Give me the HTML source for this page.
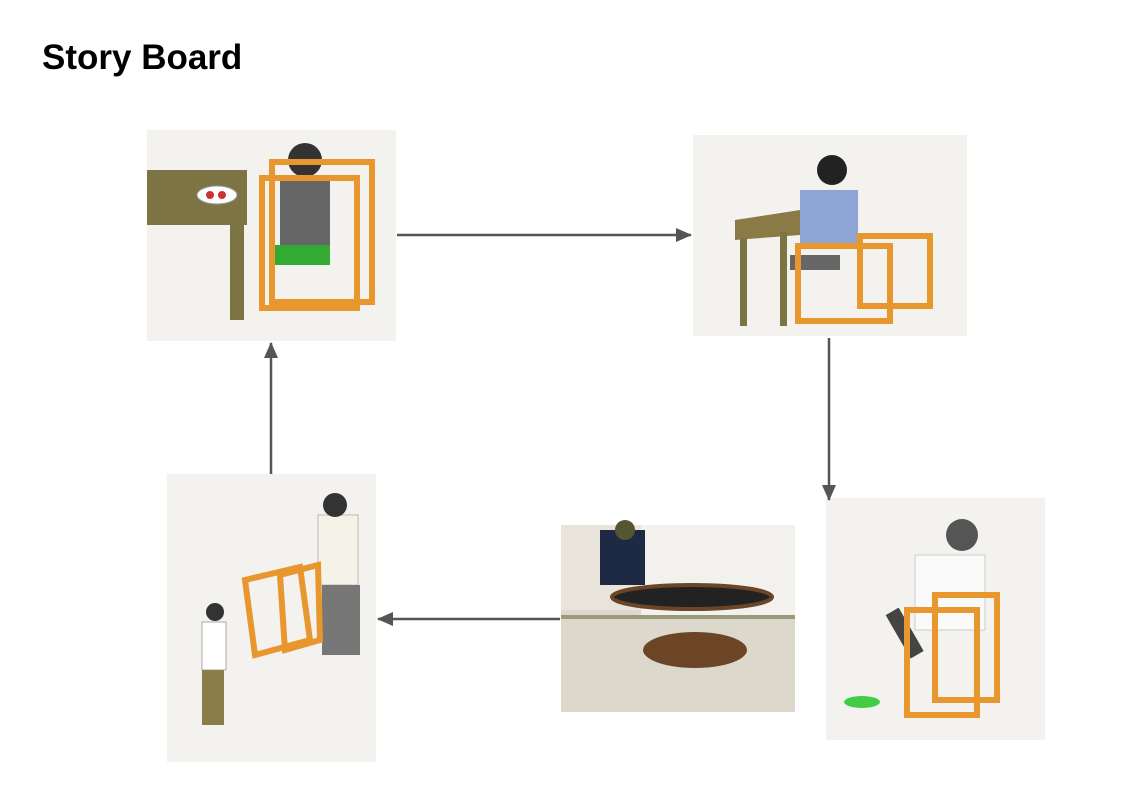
<!DOCTYPE html>
<html><head><meta charset="utf-8"><style>
html,body{margin:0;padding:0;background:#fff;width:1121px;height:793px;overflow:hidden;position:relative;font-family:"Liberation Sans",Arial,sans-serif}
h1{position:absolute;left:42px;top:38px;margin:0;font-size:35px;font-weight:bold;color:#000}
.p{position:absolute;background:#f3f2ef}
svg{position:absolute;left:0;top:0}
</style></head><body>
<h1>Story Board</h1>
<div class="p" style="left:147px;top:130px;width:249px;height:211px"></div>
<div class="p" style="left:693px;top:135px;width:274px;height:201px"></div>
<div class="p" style="left:826px;top:498px;width:219px;height:242px"></div>
<div class="p" style="left:167px;top:474px;width:209px;height:288px"></div>
<div class="p" style="left:561px;top:525px;width:234px;height:187px;background:#ddd8cc"></div>
<svg width="1121" height="793" viewBox="0 0 1121 793">
<defs><marker id="a" markerWidth="16" markerHeight="14" refX="15" refY="7" orient="auto" markerUnits="userSpaceOnUse"><path d="M0,0 L16,7 L0,14 z" fill="#555"/></marker></defs>
<g stroke="#555" stroke-width="2.5" fill="none" marker-end="url(#a)">
<line x1="397" y1="235" x2="691" y2="235"/>
<line x1="829" y1="338" x2="829" y2="500"/>
<line x1="560" y1="619" x2="378" y2="619"/>
<line x1="271" y1="474" x2="271" y2="343"/>
</g>
<rect x="147" y="170" width="100" height="55" fill="#7d7444"/>
<rect x="230" y="225" width="14" height="95" fill="#7d7444"/>
<ellipse cx="217" cy="195" rx="20" ry="9" fill="#fff" stroke="#999"/>
<circle cx="210" cy="195" r="4" fill="#c33"/><circle cx="222" cy="195" r="4" fill="#c33"/>
<rect x="280" y="180" width="50" height="65" fill="#666"/>
<circle cx="305" cy="160" r="17" fill="#333"/>
<rect x="275" y="245" width="55" height="20" fill="#3a3"/>
<g stroke="#e8962e" stroke-width="6" fill="none"><rect x="262" y="178" width="95" height="130"/><rect x="272" y="162" width="100" height="140"/></g>
<polygon points="735,220 800,210 800,235 735,240" fill="#8a7a45"/>
<rect x="740" y="238" width="7" height="88" fill="#7d7444"/>
<rect x="780" y="232" width="7" height="94" fill="#7d7444"/>
<rect x="800" y="190" width="58" height="55" fill="#8ea4d4"/>
<circle cx="832" cy="170" r="15" fill="#222"/>
<rect x="790" y="255" width="50" height="15" fill="#666"/>
<g stroke="#e8962e" stroke-width="6" fill="none"><rect x="798" y="246" width="92" height="75"/><rect x="860" y="236" width="70" height="70"/></g>
<rect x="915" y="555" width="70" height="75" fill="#fafafa" stroke="#ccc"/>
<circle cx="962" cy="535" r="16" fill="#555"/>
<rect x="880" y="620" width="50" height="15" fill="#444" transform="rotate(60 900 630)"/>
<ellipse cx="862" cy="702" rx="18" ry="6" fill="#4c4"/>
<g stroke="#e8962e" stroke-width="6" fill="none"><rect x="907" y="610" width="70" height="105"/><rect x="935" y="595" width="62" height="105"/></g>
<rect x="561" y="525" width="80" height="85" fill="#e8e4dc"/>
<rect x="641" y="525" width="154" height="90" fill="#f2f1ee"/>
<rect x="600" y="530" width="45" height="55" fill="#1e2a44"/>
<circle cx="625" cy="530" r="10" fill="#553"/>
<ellipse cx="692" cy="597" rx="80" ry="12" fill="#222" stroke="#6b4526" stroke-width="4"/>
<ellipse cx="695" cy="650" rx="52" ry="18" fill="#6b4526"/>
<rect x="561" y="615" width="234" height="4" fill="#9a9a78"/>
<rect x="318" y="515" width="40" height="70" fill="#f5f3e8" stroke="#bbb"/>
<circle cx="335" cy="505" r="12" fill="#333"/>
<rect x="322" y="585" width="38" height="70" fill="#777"/>
<circle cx="215" cy="612" r="9" fill="#333"/>
<rect x="202" y="622" width="24" height="48" fill="#fff" stroke="#aaa"/>
<rect x="202" y="670" width="22" height="55" fill="#8b7d4a"/>
<g stroke="#e8962e" stroke-width="6" fill="none"><polygon points="245,580 300,567 310,640 255,655"/><polygon points="280,575 318,565 320,640 285,650"/></g>
</svg>
</body></html>
